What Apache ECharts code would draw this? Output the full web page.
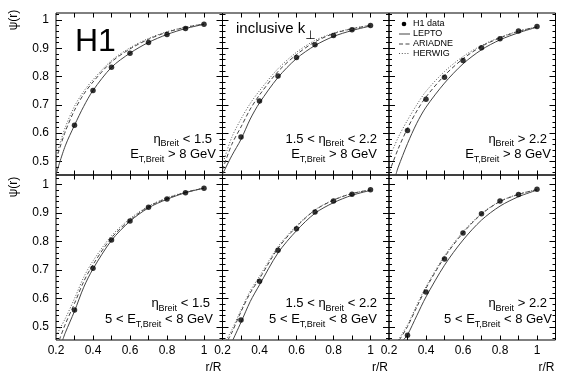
<!DOCTYPE html>
<html>
<head>
<meta charset="utf-8">
<script src="https://cdn.jsdelivr.net/npm/echarts@6/dist/echarts.min.js"></script>
<style>
  html, body { margin: 0; padding: 0; background: #fff; }
  #chart { width: 567px; height: 377px; }
</style>
</head>
<body>
<div id="chart"></div>
<script>
// r/R positions of the H1 measurements
const rValues = [0.3, 0.4, 0.5, 0.6, 0.7, 0.8, 0.9, 1.0];

// H1 data, psi(r), one array per panel (top row then bottom row, left to right)
const h1P1 = [0.628, 0.751, 0.833, 0.883, 0.921, 0.949, 0.970, 0.985];
const h1P2 = [0.586, 0.714, 0.802, 0.868, 0.913, 0.945, 0.966, 0.981];
const h1P3 = [0.609, 0.720, 0.798, 0.857, 0.902, 0.934, 0.961, 0.977];
const h1P4 = [0.560, 0.706, 0.805, 0.872, 0.920, 0.949, 0.971, 0.987];
const h1P5 = [0.525, 0.661, 0.769, 0.845, 0.903, 0.942, 0.966, 0.981];
const h1P6 = [0.472, 0.623, 0.739, 0.830, 0.897, 0.942, 0.965, 0.983];

// Monte Carlo curves [r/R, psi]
const leptoP1 = [[0.2, 0.455], [0.25, 0.555], [0.3, 0.628], [0.35, 0.695], [0.4, 0.751], [0.5, 0.833], [0.6, 0.883], [0.7, 0.921], [0.8, 0.949], [0.9, 0.970], [1.0, 0.985]];
const ariadneP1 = [[0.2, 0.505], [0.25, 0.605], [0.3, 0.681], [0.35, 0.738], [0.4, 0.781], [0.5, 0.852], [0.6, 0.898], [0.7, 0.932], [0.8, 0.957], [0.9, 0.974], [1.0, 0.986]];
const herwigP1 = [[0.2, 0.520], [0.25, 0.620], [0.3, 0.695], [0.35, 0.748], [0.4, 0.789], [0.5, 0.857], [0.6, 0.902], [0.7, 0.935], [0.8, 0.959], [0.9, 0.975], [1.0, 0.987]];

const leptoP2 = [[0.2, 0.455], [0.25, 0.520], [0.3, 0.578], [0.35, 0.650], [0.4, 0.707], [0.5, 0.797], [0.6, 0.864], [0.7, 0.910], [0.8, 0.942], [0.9, 0.963], [1.0, 0.979]];
const ariadneP2 = [[0.2, 0.470], [0.25, 0.560], [0.3, 0.622], [0.35, 0.685], [0.4, 0.735], [0.5, 0.818], [0.6, 0.878], [0.7, 0.923], [0.8, 0.952], [0.9, 0.969], [1.0, 0.981]];
const herwigP2 = [[0.2, 0.490], [0.25, 0.585], [0.3, 0.650], [0.35, 0.705], [0.4, 0.750], [0.5, 0.828], [0.6, 0.886], [0.7, 0.928], [0.8, 0.954], [0.9, 0.970], [1.0, 0.982]];

const leptoP3 = [[0.238, 0.455], [0.25, 0.480], [0.3, 0.563], [0.35, 0.635], [0.4, 0.692], [0.5, 0.777], [0.6, 0.845], [0.7, 0.895], [0.8, 0.930], [0.9, 0.955], [1.0, 0.975]];
const ariadneP3 = [[0.2, 0.460], [0.25, 0.545], [0.3, 0.617], [0.35, 0.678], [0.4, 0.728], [0.5, 0.804], [0.6, 0.863], [0.7, 0.907], [0.8, 0.937], [0.9, 0.960], [1.0, 0.976]];
const herwigP3 = [[0.2, 0.510], [0.25, 0.585], [0.3, 0.646], [0.35, 0.700], [0.4, 0.748], [0.5, 0.818], [0.6, 0.871], [0.7, 0.910], [0.8, 0.939], [0.9, 0.961], [1.0, 0.976]];

const leptoP4 = [[0.236, 0.455], [0.25, 0.480], [0.3, 0.556], [0.35, 0.640], [0.4, 0.704], [0.5, 0.804], [0.6, 0.871], [0.7, 0.918], [0.8, 0.948], [0.9, 0.971], [1.0, 0.987]];
const ariadneP4 = [[0.218, 0.455], [0.25, 0.510], [0.3, 0.583], [0.35, 0.660], [0.4, 0.719], [0.5, 0.813], [0.6, 0.875], [0.7, 0.922], [0.8, 0.951], [0.9, 0.972], [1.0, 0.987]];
const herwigP4 = [[0.2, 0.470], [0.25, 0.530], [0.3, 0.600], [0.35, 0.675], [0.4, 0.732], [0.5, 0.820], [0.6, 0.880], [0.7, 0.924], [0.8, 0.953], [0.9, 0.973], [1.0, 0.987]];

const leptoP5 = [[0.256, 0.455], [0.3, 0.517], [0.35, 0.590], [0.4, 0.648], [0.5, 0.760], [0.6, 0.838], [0.7, 0.899], [0.8, 0.936], [0.9, 0.962], [1.0, 0.979]];
const ariadneP5 = [[0.229, 0.455], [0.25, 0.480], [0.3, 0.554], [0.35, 0.620], [0.4, 0.670], [0.5, 0.776], [0.6, 0.852], [0.7, 0.910], [0.8, 0.945], [0.9, 0.968], [1.0, 0.981]];
const herwigP5 = [[0.22, 0.455], [0.25, 0.490], [0.3, 0.560], [0.35, 0.627], [0.4, 0.678], [0.5, 0.782], [0.6, 0.855], [0.7, 0.911], [0.8, 0.946], [0.9, 0.968], [1.0, 0.981]];

const leptoP6 = [[0.277, 0.455], [0.3, 0.473], [0.35, 0.540], [0.4, 0.606], [0.5, 0.717], [0.6, 0.805], [0.7, 0.875], [0.8, 0.924], [0.9, 0.957], [1.0, 0.980]];
const ariadneP6 = [[0.256, 0.455], [0.3, 0.502], [0.35, 0.570], [0.4, 0.636], [0.5, 0.745], [0.6, 0.830], [0.7, 0.896], [0.8, 0.940], [0.9, 0.965], [1.0, 0.982]];
const herwigP6 = [[0.25, 0.455], [0.3, 0.508], [0.35, 0.577], [0.4, 0.642], [0.5, 0.750], [0.6, 0.834], [0.7, 0.898], [0.8, 0.941], [0.9, 0.966], [1.0, 0.982]];

// tick values
const xTicks = [0.3, 0.4, 0.5, 0.6, 0.7, 0.8, 0.9, 1.0];
const xLabels = [0.2, 0.4, 0.6, 0.8, 1.0];
const yMajor = [0.5, 0.6, 0.7, 0.8, 0.9, 1.0];
const yMinor = [0.46, 0.48, 0.52, 0.54, 0.56, 0.58, 0.62, 0.64, 0.66, 0.68, 0.72, 0.74, 0.76, 0.78, 0.82, 0.84, 0.86, 0.88, 0.92, 0.94, 0.96, 0.98, 1.02];

// panel cut labels
const etaCuts = ['η{s|Breit} < 1.5', '1.5 < η{s|Breit} < 2.2', 'η{s|Breit} > 2.2'];
const etCuts = ['E{s|T,Breit} > 8 GeV', '5 < E{s|T,Breit} < 8 GeV'];

const panels = [
  { h1: h1P1, lepto: leptoP1, ariadne: ariadneP1, herwig: herwigP1 },
  { h1: h1P2, lepto: leptoP2, ariadne: ariadneP2, herwig: herwigP2 },
  { h1: h1P3, lepto: leptoP3, ariadne: ariadneP3, herwig: herwigP3 },
  { h1: h1P4, lepto: leptoP4, ariadne: ariadneP4, herwig: herwigP4 },
  { h1: h1P5, lepto: leptoP5, ariadne: ariadneP5, herwig: herwigP5 },
  { h1: h1P6, lepto: leptoP6, ariadne: ariadneP6, herwig: herwigP6 },
];

// layout
const FONT = '"Liberation Sans", Arial, Helvetica, sans-serif';
const colLeft = [56, 222.5, 389];
const colWidth = 166.5;
const rowTop = [13, 175];
const rowHeight = [162, 165];
const yRange = [[0.452, 1.025], [0.455, 1.033]];
// right edges of the cut labels, per panel [line1, line2]
const cutRight = [[212, 216], [377, 377], [547, 551], [210, 213], [377, 377], [547, 552]];
const cutBase = [[143.3, 159], [308, 324]];

const fmt = (v) => (Math.abs(v - 1) < 1e-9 ? '1' : v.toFixed(1));
const tickStyle = { color: '#000', width: 1 };

const chart = echarts.init(document.getElementById('chart'), null, { renderer: 'canvas' });

const grids = [];
const xAxes = [];
const yAxes = [];
const series = [];
const graphics = [];

panels.forEach((p, g) => {
  const row = Math.floor(g / 3);
  const col = g % 3;
  grids.push({
    left: colLeft[col],
    top: rowTop[row],
    width: colWidth,
    height: rowHeight[row],
    show: true,
    borderColor: '#000',
    borderWidth: 1,
    backgroundColor: 'transparent',
  });

  const xBase = {
    type: 'value',
    gridIndex: g,
    min: 0.2,
    max: 1.1,
    axisLine: { show: false },
    splitLine: { show: false },
    axisTick: { inside: true, length: 4.5, customValues: xTicks, lineStyle: tickStyle },
  };
  xAxes.push({
    ...xBase,
    position: 'bottom',
    axisLabel: row === 1
      ? { show: true, customValues: xLabels, formatter: fmt, margin: 5, fontSize: 12, color: '#000', fontFamily: FONT }
      : { show: false },
  });
  xAxes.push({ ...xBase, position: 'top', axisLabel: { show: false } });

  const yBase = {
    type: 'value',
    gridIndex: g,
    min: yRange[row][0],
    max: yRange[row][1],
    axisLine: { show: false },
    splitLine: { show: false },
  };
  yAxes.push({
    ...yBase,
    position: 'left',
    axisTick: { inside: true, length: 6, customValues: yMajor, lineStyle: tickStyle },
    axisLabel: col === 0
      ? { show: true, customValues: yMajor, formatter: fmt, margin: 7, fontSize: 12, color: '#000', fontFamily: FONT }
      : { show: false },
  });
  yAxes.push({ ...yBase, position: 'left', axisTick: { inside: true, length: 3, customValues: yMinor, lineStyle: tickStyle }, axisLabel: { show: false } });
  yAxes.push({ ...yBase, position: 'right', axisTick: { inside: true, length: 6, customValues: yMajor, lineStyle: tickStyle }, axisLabel: { show: false } });
  yAxes.push({ ...yBase, position: 'right', axisTick: { inside: true, length: 3, customValues: yMinor, lineStyle: tickStyle }, axisLabel: { show: false } });

  const xi = 2 * g;
  const yi = 4 * g;
  const lineBase = {
    type: 'line',
    xAxisIndex: xi,
    yAxisIndex: yi,
    showSymbol: false,
    symbol: 'none',
    smooth: 0.3,
    clip: true,
    silent: true,
  };
  series.push({ ...lineBase, name: 'LEPTO', data: p.lepto, lineStyle: { color: '#444', width: 1 } });
  series.push({ ...lineBase, name: 'ARIADNE', data: p.ariadne, lineStyle: { color: '#444', width: 1, type: [4, 2.5] } });
  series.push({ ...lineBase, name: 'HERWIG', data: p.herwig, lineStyle: { color: '#555', width: 1, type: [1, 1.8] } });
  series.push({
    type: 'scatter',
    name: 'H1 data',
    xAxisIndex: xi,
    yAxisIndex: yi,
    data: rValues.map((r, i) => [r, p.h1[i]]),
    symbol: 'circle',
    symbolSize: 5.5,
    itemStyle: { color: '#000' },
    z: 5,
    silent: true,
  });

  // cut labels
  const rich = { s: { fontSize: 9, lineHeight: 9, verticalAlign: 'bottom', fontFamily: FONT, fill: '#000' } };
  const lines = [etaCuts[col], etCuts[row]];
  lines.forEach((txt, k) => {
    graphics.push({
      type: 'text',
      x: cutRight[g][k],
      y: cutBase[row][k] - 13.3,
      silent: true,
      style: {
        text: txt,
        fill: '#000',
        fontSize: 13,
        fontFamily: FONT,
        lineHeight: 18,
        align: 'right',
        verticalAlign: 'top',
        rich,
      },
    });
  });
});

// axis titles
const psiTitleY = [20, 187];
psiTitleY.forEach((y) => {
  graphics.push({
    type: 'text', x: 14, y, rotation: Math.PI / 2, silent: true,
    style: { text: 'ψ(r)', fill: '#000', fontSize: 12, fontFamily: FONT, align: 'center', verticalAlign: 'middle' },
  });
});
colLeft.forEach((l) => {
  graphics.push({
    type: 'text', x: l + colWidth - 1, y: 368, silent: true,
    style: { text: 'r/R', fill: '#000', fontSize: 12, fontFamily: FONT, align: 'right', verticalAlign: 'middle' },
  });
});

// H1 logo and inclusive k_perp
graphics.push({
  type: 'text', x: 75, y: 42, silent: true,
  style: { text: 'H1', fill: '#000', fontSize: 32, fontFamily: FONT, align: 'left', verticalAlign: 'middle' },
});
graphics.push({
  type: 'text', x: 236, y: 15, silent: true,
  style: {
    text: 'inclusive k{s|⊥}', fill: '#000', fontSize: 15, fontFamily: FONT, lineHeight: 27,
    align: 'left', verticalAlign: 'top',
    rich: { s: { fontSize: 12, lineHeight: 12, verticalAlign: 'bottom', fontFamily: '"DejaVu Sans", sans-serif', fill: '#000' } },
  },
});

// legend (top right panel)
const legendFont = { fill: '#000', fontSize: 9, fontFamily: FONT, align: 'left', verticalAlign: 'middle' };
graphics.push({ type: 'circle', silent: true, shape: { cx: 404, cy: 24, r: 2.3 }, style: { fill: '#000' } });
graphics.push({ type: 'text', x: 413, y: 23.7, silent: true, style: { ...legendFont, text: 'H1 data' } });
graphics.push({ type: 'line', silent: true, shape: { x1: 399, y1: 34, x2: 410, y2: 34 }, style: { stroke: '#444', lineWidth: 1 } });
graphics.push({ type: 'text', x: 413, y: 33.7, silent: true, style: { ...legendFont, text: 'LEPTO' } });
graphics.push({ type: 'line', silent: true, shape: { x1: 399, y1: 44, x2: 410, y2: 44 }, style: { stroke: '#444', lineWidth: 1, lineDash: [4, 2.5] } });
graphics.push({ type: 'text', x: 413, y: 43.7, silent: true, style: { ...legendFont, text: 'ARIADNE' } });
graphics.push({ type: 'line', silent: true, shape: { x1: 399, y1: 53.5, x2: 410, y2: 53.5 }, style: { stroke: '#555', lineWidth: 1, lineDash: [1, 1.8] } });
graphics.push({ type: 'text', x: 413, y: 53.7, silent: true, style: { ...legendFont, text: 'HERWIG' } });

chart.setOption({
  backgroundColor: '#fff',
  animation: false,
  grid: grids,
  xAxis: xAxes,
  yAxis: yAxes,
  series,
  graphic: { elements: graphics },
});
</script>
</body>
</html>
